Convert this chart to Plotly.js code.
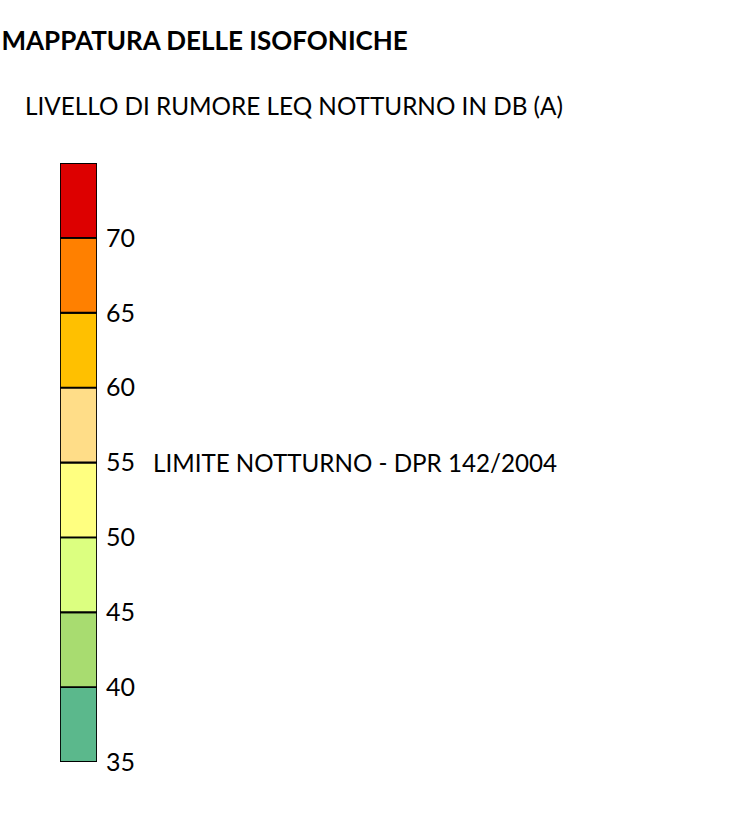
<!DOCTYPE html>
<html>
<head>
<meta charset="utf-8">
<script src="https://cdn.plot.ly/plotly-3.0.1.min.js"></script>
<style>html,body{margin:0;padding:0;background:#fff;}#chart{width:740px;height:826px;}</style>
</head>
<body>
<div id="chart"></div>
<script>
// Noise classes (dB(A)) — lower bound of each class
const classLower = [35, 40, 45, 50, 55, 60, 65, 70];
const classSize  = [5, 5, 5, 5, 5, 5, 5, 5];
const classColors = ['#5BB88C', '#A8DC70', '#DCFF80', '#FFFF80', '#FFDD88', '#FFC000', '#FF8000', '#DD0000'];
const tickValues = [35, 40, 45, 50, 55, 60, 65, 70];
const tickLabels = ['35', '40', '45', '50', '55', '60', '65', '70'];
const limitValue = 55;
const limitLabel = 'LIMITE NOTTURNO - DPR 142/2004';

const FONT = 'Lato, "Open Sans", sans-serif';

const trace = {
  type: 'bar',
  x: classLower.map(() => 0),
  y: classSize,
  base: classLower,
  width: 1,
  marker: { color: classColors, line: { color: '#000', width: 1.8 } },
  hoverinfo: 'skip',
  showlegend: false
};

const layout = {
  width: 740, height: 826,
  margin: { l: 60, r: 643, t: 163, b: 64, pad: 0 },
  paper_bgcolor: '#fff', plot_bgcolor: '#fff',
  barmode: 'overlay',
  title: {
    text: '<b>MAPPATURA DELLE ISOFONICHE</b>',
    font: { family: FONT, size: 26, color: '#000' },
    x: 0.002, xanchor: 'left', xref: 'container',
    y: 1 - 41 / 826, yanchor: 'middle', yref: 'container'
  },
  xaxis: { range: [-0.5, 0.5], visible: false, fixedrange: true },
  yaxis: {
    range: [35, 75], side: 'right', showgrid: false, zeroline: false,
    showline: false, ticks: 'outside', ticklen: 3, tickcolor: 'rgba(0,0,0,0)',
    tickvals: tickValues, ticktext: tickLabels,
    tickfont: { family: FONT, size: 25, color: '#000' },
    fixedrange: true
  },
  annotations: [
    {
      text: 'LIVELLO DI RUMORE LEQ NOTTURNO IN DB (A)',
      xref: 'paper', yref: 'paper',
      x: (23 - 60) / 37, y: (762 - 106) / 599,
      xanchor: 'left', yanchor: 'middle', showarrow: false,
      font: { family: FONT, size: 24.3, color: '#000' }
    },
    {
      text: limitLabel,
      xref: 'paper', yref: 'y',
      x: (151 - 60) / 37, y: limitValue,
      xanchor: 'left', yanchor: 'middle', showarrow: false,
      font: { family: FONT, size: 24.2, color: '#000' }
    }
  ]
};

Plotly.newPlot('chart', [trace], layout, { displayModeBar: false, staticPlot: true });
</script>
</body>
</html>
